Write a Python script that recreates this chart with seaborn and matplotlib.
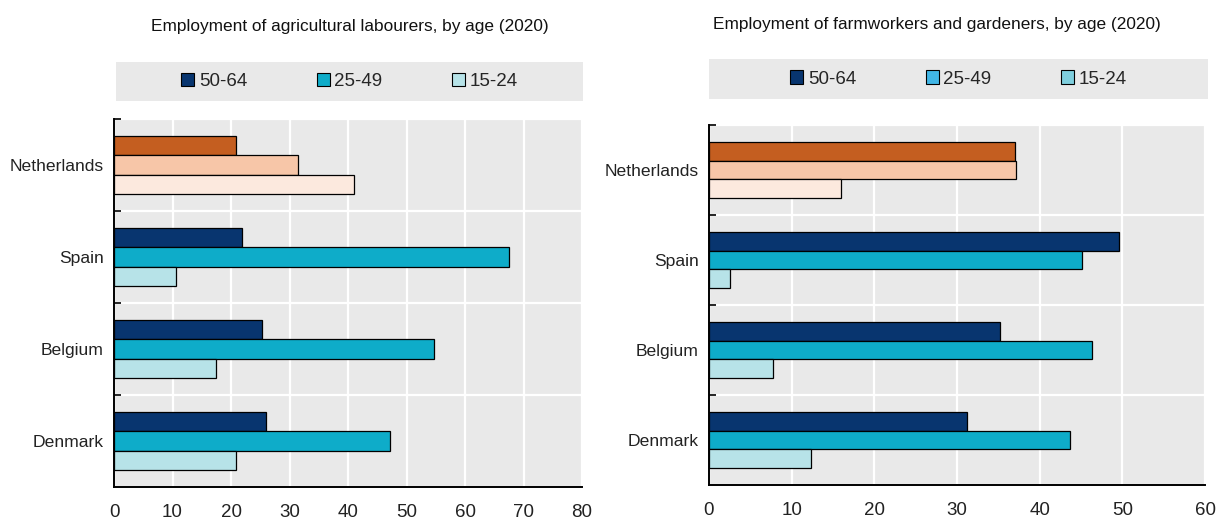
import matplotlib
matplotlib.use("Agg")
import matplotlib.pyplot as plt
from matplotlib.patches import Patch
from matplotlib.ticker import MultipleLocator, FixedLocator
import pandas as pd
import seaborn as sns

countries = ["Netherlands", "Spain", "Belgium", "Denmark"]
age_groups = ["50-64", "25-49", "15-24"]

# Share of employment by age group (%), 2020
labourers_50_64 = [20.8, 21.9, 25.3, 25.9]
labourers_25_49 = [31.5, 67.5, 54.7, 47.2]
labourers_15_24 = [41.1, 10.6, 17.5, 20.8]

farmworkers_50_64 = [37.0, 49.6, 35.2, 31.2]
farmworkers_25_49 = [37.1, 45.1, 46.3, 43.7]
farmworkers_15_24 = [16.0, 2.5, 7.7, 12.3]

left_title = "Employment of agricultural labourers, by age (2020)"
right_title = "Employment of farmworkers and gardeners, by age (2020)"

bar_colors = ["#08356f", "#0eacc9", "#b7e3e8"]
highlight_colors = ["#c45e20", "#f7c6a8", "#fce9de"]
left_legend_colors = ["#08356f", "#0eacc9", "#b7e3e8"]
right_legend_colors = ["#08356f", "#41b6e6", "#7fcfde"]
panel_bg = "#e9e9e9"

sns.set_theme(style="white")
plt.rcParams["font.family"] = ["Liberation Sans", "DejaVu Sans"]

W, H = 1216, 521
fig = plt.figure(figsize=(W / 100, H / 100), dpi=100)


def frac_box(x0, y0, x1, y1):
    return [x0 / W, 1 - y1 / H, (x1 - x0) / W, (y1 - y0) / H]


def long_frame(s1, s2, s3):
    rows = []
    for grp, vals in zip(age_groups, [s1, s2, s3]):
        for c, v in zip(countries, vals):
            rows.append({"country": c, "age": grp, "value": v})
    return pd.DataFrame(rows)


def draw_panel(box, df, xmax, legend_box, legend_colors, title, title_xy, title_ha):
    ax = fig.add_axes(frac_box(*box))
    sns.barplot(data=df, y="country", x="value", hue="age", order=countries,
                hue_order=age_groups, palette=bar_colors, orient="h",
                width=0.62, edgecolor="black", linewidth=0.9, ax=ax,
                legend=False, saturation=1)
    # Netherlands bars in the highlight palette
    for cont, hc in zip(ax.containers, highlight_colors):
        cont.patches[0].set_facecolor(hc)
    ax.set_facecolor(panel_bg)
    ax.set_xlim(0, xmax)
    ax.set_ylim(3.5, -0.5)
    ax.xaxis.set_major_locator(MultipleLocator(10))
    ax.yaxis.set_minor_locator(FixedLocator([-0.5, 0.5, 1.5, 2.5]))
    ax.grid(False)
    ax.grid(axis="x", which="major", color="white", linewidth=1.6)
    ax.grid(axis="y", which="minor", color="white", linewidth=1.6)
    ax.set_axisbelow(True)
    for s in ["top", "right"]:
        ax.spines[s].set_visible(False)
    for s in ["left", "bottom"]:
        ax.spines[s].set_color("black")
        ax.spines[s].set_linewidth(1.4)
    ax.tick_params(axis="x", which="major", direction="in", length=5, width=1.2,
                   color="black", labelsize=13.5, pad=12, labelcolor="#222222")
    ax.tick_params(axis="y", which="major", length=0, labelsize=12.6, pad=7.5,
                   labelcolor="#222222")
    ax.tick_params(axis="y", which="minor", direction="in", length=5, width=1.2,
                   color="black", left=True)
    ax.set_xlabel("")
    ax.set_ylabel("")

    lax = fig.add_axes(frac_box(*legend_box))
    lax.set_facecolor(panel_bg)
    lax.set_xticks([])
    lax.set_yticks([])
    for s in lax.spines.values():
        s.set_visible(False)
    handles = [Patch(facecolor=c, edgecolor="black", linewidth=0.8) for c in legend_colors]
    lax.legend(handles, age_groups, loc="center", ncol=3, frameon=False,
               fontsize=13.5, handlelength=0.7, handleheight=0.7,
               handletextpad=0.25, columnspacing=3.7, borderaxespad=0)

    fig.text(title_xy[0] / W, 1 - title_xy[1] / H, title, ha=title_ha, va="center",
             fontsize=12.4, color="#111111")
    return ax


draw_panel((114, 119, 582, 487), long_frame(labourers_50_64, labourers_25_49, labourers_15_24),
           80, (116, 62, 583, 101), left_legend_colors, left_title, (350, 26), "center")
draw_panel((709, 125, 1205, 485), long_frame(farmworkers_50_64, farmworkers_25_49, farmworkers_15_24),
           60, (709, 59, 1208, 99), right_legend_colors, right_title, (713, 25), "left")

fig.savefig("out.png", dpi=100)
